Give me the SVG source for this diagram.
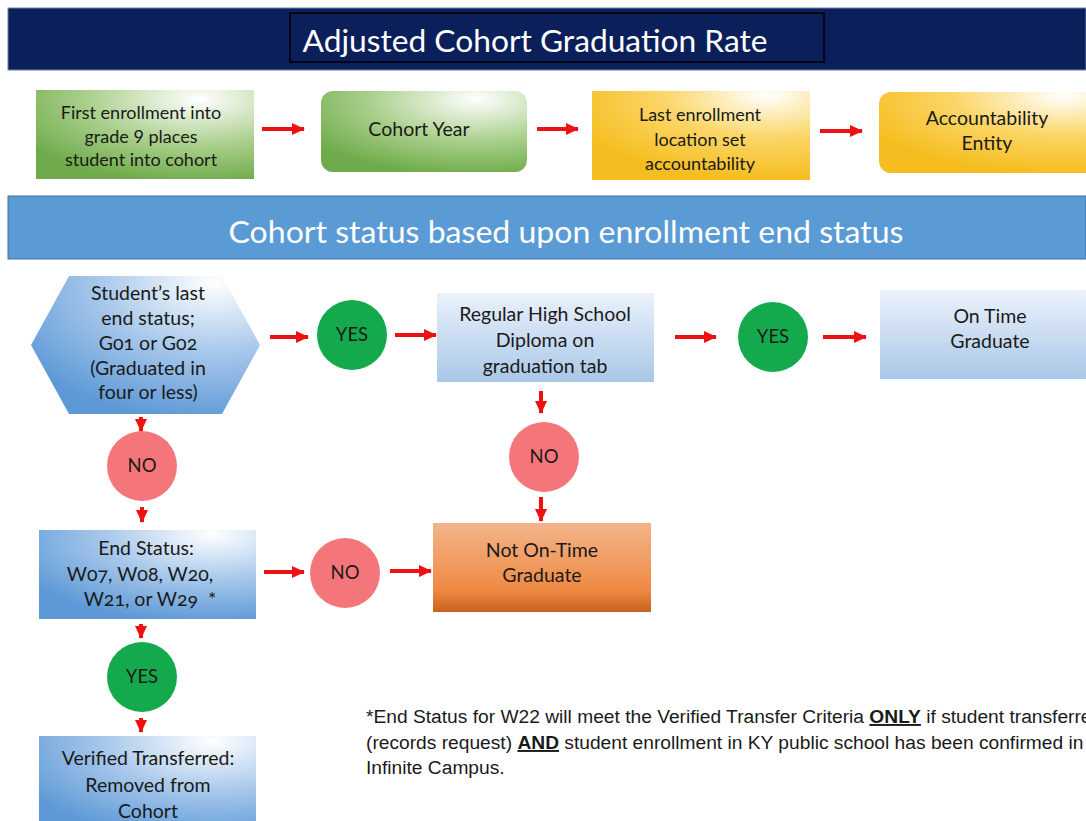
<svg xmlns="http://www.w3.org/2000/svg" width="1086" height="821" viewBox="0 0 1086 821">
<defs>
<radialGradient id="gGreen" cx="0.75" cy="0.1" r="0.95" fx="0.75" fy="0.1">
<stop offset="0" stop-color="#ffffff"/>
<stop offset="0.55" stop-color="#a9cf8b"/>
<stop offset="1" stop-color="#6fab4a"/>
</radialGradient>
<radialGradient id="gYellow" cx="0.8" cy="0.05" r="0.95" fx="0.8" fy="0.05">
<stop offset="0" stop-color="#ffffff"/>
<stop offset="0.5" stop-color="#fbd667"/>
<stop offset="1" stop-color="#f5bd1f"/>
</radialGradient>
<radialGradient id="gBlue" cx="0.8" cy="0.05" r="1" fx="0.8" fy="0.05">
<stop offset="0" stop-color="#ffffff"/>
<stop offset="0.5" stop-color="#a8c8eb"/>
<stop offset="1" stop-color="#5d99d6"/>
</radialGradient>
<linearGradient id="gLight" x1="0" y1="0" x2="0" y2="1">
<stop offset="0" stop-color="#ebf2fb"/>
<stop offset="1" stop-color="#a9c7e8"/>
</linearGradient>
<linearGradient id="gOrange" x1="0" y1="0" x2="0" y2="1">
<stop offset="0" stop-color="#f3b48a"/>
<stop offset="0.75" stop-color="#ef8a43"/>
<stop offset="1" stop-color="#c8611d"/>
</linearGradient>
<marker id="ah" markerUnits="userSpaceOnUse" markerWidth="13" markerHeight="12" refX="12" refY="6" orient="auto">
<path d="M0,0 L13,6 L0,12 z" fill="#ee1111"/>
</marker>
</defs>
<style>
text{font-family:Lato,"Open Sans","Liberation Sans",sans-serif;fill:#1a1a1a;text-anchor:middle}
.node{font-size:18px}
.big{font-size:19.5px}
.circ{font-size:18.5px}
.hdr{fill:#ffffff;font-size:31px}
.yes{fill:#14a94c}
.no{fill:#f4767a}
.conn line{stroke:#ee1111;stroke-width:4;marker-end:url(#ah)}
.note{font-size:19.2px;text-anchor:start;font-family:"Liberation Sans",Lato,sans-serif}
.num{font-variant-numeric:oldstyle-nums}
</style>
<rect width="1086" height="821" fill="#ffffff"/>

<g id="title">
<rect x="8" y="8" width="1078" height="62" fill="#0b1f5b" stroke="#6d83b3" stroke-width="1"/>
<rect x="290" y="13" width="534" height="49" fill="#0b1f5b" stroke="#000000" stroke-width="1.5"/>
<text x="535" y="52" class="hdr" textLength="465" lengthAdjust="spacingAndGlyphs">Adjusted Cohort Graduation Rate</text>
</g>

<g id="n_first">
<rect x="36" y="90" width="218" height="89" fill="url(#gGreen)"/>
<text class="node" x="141" y="119">First enrollment into</text>
<text class="node" x="141" y="143">grade 9 places</text>
<text class="node" x="141" y="166">student into cohort</text>
</g>
<g id="n_cohortyear">
<rect x="321" y="91" width="206" height="81" rx="12" fill="url(#gGreen)"/>
<text class="big" x="419" y="136">Cohort Year</text>
</g>
<g id="n_lastenroll">
<rect x="592" y="91" width="218" height="89" fill="url(#gYellow)"/>
<text class="node" x="700" y="121">Last enrollment</text>
<text class="node" x="700" y="146">location set</text>
<text class="node" x="700" y="170">accountability</text>
</g>
<g id="n_entity">
<rect x="879" y="92" width="230" height="81" rx="12" fill="url(#gYellow)"/>
<text class="big" x="987" y="125">Accountability</text>
<text class="big" x="987" y="150">Entity</text>
</g>

<g id="header2">
<rect x="8" y="196" width="1078" height="63" fill="#5b9bd5" stroke="#41719c" stroke-width="1"/>
<text x="566" y="243" class="hdr" textLength="675" lengthAdjust="spacingAndGlyphs">Cohort status based upon enrollment end status</text>
</g>

<g id="n_laststatus">
<polygon points="31,345 69,276 222,276 260,345 222,414 69,414" fill="url(#gBlue)"/>
<text class="big" x="148" y="300">Student’s last</text>
<text class="big" x="148" y="325">end status;</text>
<text class="big num" x="148" y="350">G01 or G02</text>
<text class="big" x="148" y="375">(Graduated in</text>
<text class="big" x="148" y="399">four or less)</text>
</g>
<g id="n_yes1">
<circle cx="352" cy="335" r="35" class="yes"/>
<text class="circ" x="352" y="341">YES</text>
</g>
<g id="n_diploma">
<rect x="437" y="293" width="217" height="89" fill="url(#gLight)"/>
<text class="big" x="545" y="321">Regular High School</text>
<text class="big" x="545" y="347">Diploma on</text>
<text class="big" x="545" y="373">graduation tab</text>
</g>
<g id="n_yes2">
<ellipse cx="773" cy="337" rx="35" ry="35" class="yes"/>
<text class="circ" x="773" y="343">YES</text>
</g>
<g id="n_ontime">
<rect x="880" y="290" width="230" height="89" fill="url(#gLight)"/>
<text class="big" x="990" y="323">On Time</text>
<text class="big" x="990" y="348">Graduate</text>
</g>
<g id="n_no2">
<circle cx="544" cy="457" r="35" class="no"/>
<text class="circ" x="544" y="463">NO</text>
</g>
<g id="n_notontime">
<rect x="433" y="523" width="218" height="89" fill="url(#gOrange)"/>
<text class="big" x="542" y="557">Not On-Time</text>
<text class="big" x="542" y="582">Graduate</text>
</g>
<g id="n_no1">
<circle cx="142" cy="466" r="35" class="no"/>
<text class="circ" x="142" y="472">NO</text>
</g>
<g id="n_endstatus">
<rect x="39" y="530" width="217" height="89" fill="url(#gBlue)"/>
<text class="big" x="146" y="555">End Status:</text>
<text class="big num" x="140" y="581">W07, W08, W20,</text>
<text class="big num" x="150" y="606" xml:space="preserve">W21, or W29  *</text>
</g>
<g id="n_no3">
<circle cx="345" cy="573" r="35" class="no"/>
<text class="circ" x="345" y="579">NO</text>
</g>
<g id="n_yes3">
<circle cx="142" cy="677" r="35" class="yes"/>
<text class="circ" x="142" y="683">YES</text>
</g>
<g id="n_verified">
<rect x="39" y="736" width="217" height="100" fill="url(#gBlue)"/>
<text class="big" x="148" y="765">Verified Transferred:</text>
<text class="big" x="148" y="792">Removed from</text>
<text class="big" x="148" y="818">Cohort</text>
</g>

<g id="footnote">
<text class="note" x="366" y="723">*End Status for W22 will meet the Verified Transfer Criteria <tspan font-weight="bold" text-decoration="underline">ONLY</tspan> if student transferred</text>
<text class="note" x="366" y="749">(records request) <tspan font-weight="bold" text-decoration="underline">AND</tspan> student enrollment in KY public school has been confirmed in</text>
<text class="note" x="366" y="774">Infinite Campus.</text>
</g>

<g id="connectors" class="conn">
<line x1="262" y1="129" x2="304" y2="129"/>
<line x1="537" y1="129" x2="578" y2="129"/>
<line x1="820" y1="131" x2="862" y2="131"/>
<line x1="270" y1="337" x2="308" y2="337"/>
<line x1="395" y1="335" x2="436" y2="335"/>
<line x1="675" y1="337" x2="716" y2="337"/>
<line x1="823" y1="337" x2="866" y2="337"/>
<line x1="541" y1="391" x2="541" y2="413"/>
<line x1="541" y1="497" x2="541" y2="521"/>
<line x1="141" y1="417" x2="141" y2="431"/>
<line x1="142" y1="507" x2="142" y2="522"/>
<line x1="264" y1="572" x2="304" y2="572"/>
<line x1="390" y1="571" x2="431" y2="571"/>
<line x1="141" y1="624" x2="141" y2="638"/>
<line x1="141" y1="718" x2="141" y2="732"/>
</g>
</svg>
